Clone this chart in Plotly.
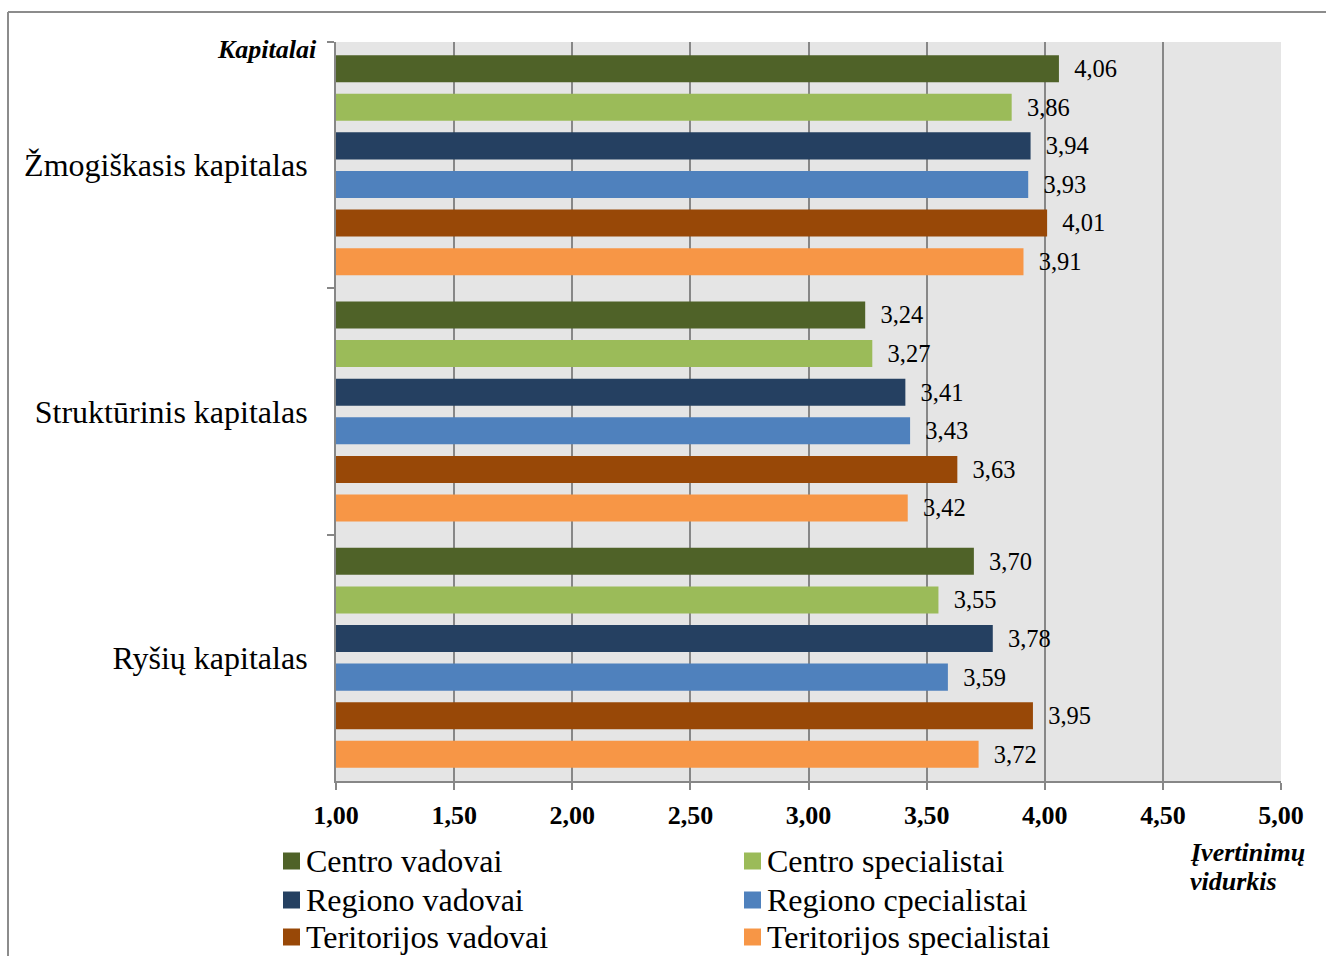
import plotly.graph_objects as go

# Categories (top to bottom) and respondent groups
categories = ["Žmogiškasis kapitalas", "Struktūrinis kapitalas", "Ryšių kapitalas"]
groups = [
    "Centro vadovai",
    "Centro specialistai",
    "Regiono vadovai",
    "Regiono cpecialistai",
    "Teritorijos vadovai",
    "Teritorijos specialistai",
]
colors = ["#4f6228", "#9bbb59", "#254061", "#4f81bd", "#984807", "#f79646"]

# Mean ratings per group, one value per category
centro_vadovai = [4.06, 3.24, 3.70]
centro_specialistai = [3.86, 3.27, 3.55]
regiono_vadovai = [3.94, 3.41, 3.78]
regiono_specialistai = [3.93, 3.43, 3.59]
teritorijos_vadovai = [4.01, 3.63, 3.95]
teritorijos_specialistai = [3.91, 3.42, 3.72]

series = [
    centro_vadovai,
    centro_specialistai,
    regiono_vadovai,
    regiono_specialistai,
    teritorijos_vadovai,
    teritorijos_specialistai,
]

x_ticks = [1.0, 1.5, 2.0, 2.5, 3.0, 3.5, 4.0, 4.5, 5.0]
x_tick_text = ["1,00", "1,50", "2,00", "2,50", "3,00", "3,50", "4,00", "4,50", "5,00"]

SERIF = "Liberation Serif"
GRID = "#878787"

W, H = 1326, 956
L, R, T, B = 336, 45, 42, 175
plot_w = W - L - R
plot_h = H - T - B


def px_x(px):
    return (px - L) / plot_w


def px_y(py):
    return (H - B - py) / plot_h


fig = go.Figure()
for name, vals, col in zip(groups, series, colors):
    fig.add_trace(
        go.Bar(
            y=categories,
            x=vals,
            name=name,
            orientation="h",
            marker=dict(color=col, line=dict(width=0)),
            text=["\u00a0\u00a0" + f"{v:.2f}".replace(".", ",") for v in vals],
            textposition="outside",
            textfont=dict(family=SERIF, size=29, color="black"),
            cliponaxis=False,
            hoverinfo="skip",
        )
    )

fig.update_layout(
    width=W,
    height=H,
    margin=dict(l=L, r=R, t=T, b=B, pad=0, autoexpand=False),
    paper_bgcolor="white",
    plot_bgcolor="#e5e5e5",
    barmode="group",
    bargap=0.06,
    bargroupgap=0.3,
    font=dict(family=SERIF, color="black"),
    showlegend=False,
    xaxis=dict(
        range=[1, 5],
        tickvals=x_ticks,
        ticktext=x_tick_text,
        tickfont=dict(family=SERIF, size=26, color="black", weight="bold"),
        ticklabelstandoff=3,
        showgrid=True,
        gridcolor=GRID,
        gridwidth=2,
        ticks="outside",
        ticklen=7,
        tickcolor=GRID,
        tickwidth=2,
        showline=True,
        linecolor=GRID,
        linewidth=2,
        zeroline=False,
        fixedrange=True,
    ),
    yaxis=dict(
        autorange="reversed",
        tickson="boundaries",
        ticks="outside",
        ticklen=7,
        tickcolor=GRID,
        tickwidth=2,
        showline=True,
        linecolor=GRID,
        linewidth=2,
        showgrid=False,
        tickfont=dict(family=SERIF, size=32, color="black"),
        ticklabelstandoff=20,
        fixedrange=True,
    ),
)

# Axis captions
fig.add_annotation(
    text="<b><i>Kapitalai</i></b>",
    xref="paper", yref="paper",
    x=0, xshift=-17, xanchor="right",
    y=px_y(50), yanchor="middle",
    showarrow=False,
    font=dict(family=SERIF, size=26, color="black"),
)
for line_text, line_y in [("Įvertinimų", 852), ("vidurkis", 881)]:
    fig.add_annotation(
        text=f"<b><i>{line_text}</i></b>",
        xref="paper", yref="paper",
        x=px_x(1188), xanchor="left",
        y=px_y(line_y), yanchor="middle",
        showarrow=False,
        font=dict(family=SERIF, size=26, color="black"),
    )

# Legend: two columns of square swatches with labels
legend_cols = [283, 744]
legend_rows = [861, 900, 937]
SW = 17
for i, (name, col) in enumerate(zip(groups, colors)):
    lx = legend_cols[i % 2]
    ly = legend_rows[i // 2]
    fig.add_shape(
        type="rect", xref="paper", yref="paper",
        x0=px_x(lx), x1=px_x(lx + SW),
        y0=px_y(ly - SW / 2), y1=px_y(ly + SW / 2),
        fillcolor=col, line=dict(width=0),
    )
    fig.add_annotation(
        text=name,
        xref="paper", yref="paper",
        x=px_x(lx + SW + 4), xanchor="left",
        y=px_y(ly), yanchor="middle",
        showarrow=False,
        font=dict(family=SERIF, size=32, color="black"),
    )

# Chart frame (left and top edges)
fig.add_shape(type="line", xref="paper", yref="paper",
              x0=px_x(8), x1=px_x(8), y0=px_y(12), y1=px_y(960),
              line=dict(color="#8c8c8c", width=2))
fig.add_shape(type="line", xref="paper", yref="paper",
              x0=px_x(8), x1=px_x(1330), y0=px_y(12), y1=px_y(12),
              line=dict(color="#8c8c8c", width=2))

fig.write_html("out.html", config={"displayModeBar": False})
